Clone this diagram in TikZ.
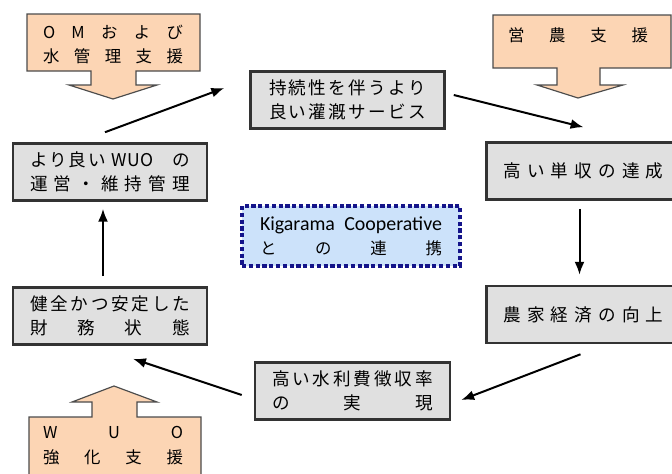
\documentclass[tikz,border=0pt]{standalone}
\usepackage{fontspec}
\setmainfont{Noto Sans CJK JP}
\newfontfamily\latfont{Carlito}
\usetikzlibrary{arrows.meta}
\newlength\px
\setlength\px{0.03cm}
% spread the items of a line over a fixed width
\def\spreadtok#1#2\endspread{#1\if\relax\detokenize{#2}\relax\else\hfill\spreadtok#2\endspread\fi}
\newcommand\sline[2]{\makebox[#1\px][s]{\spreadtok#2\endspread}}
\definecolor{peach}{HTML}{FCD5B4}
\definecolor{boxgray}{HTML}{E0E0E0}
\definecolor{kigblue}{HTML}{CCE2FA}
\definecolor{kigline}{HTML}{14148A}
\tikzset{
  stagebox/.style={draw=black!80,line width=2.2pt,fill=boxgray,minimum width=194\px,
    minimum height=57\px,inner sep=0pt,align=center,font=\fontsize{15}{20.5}\selectfont},
  helpshape/.style={draw=black!70,line width=1pt,fill=peach},
  helptext/.style={align=center,inner sep=0pt,font=\fontsize{14}{21}\selectfont},
  flow/.style={-{Latex[length=11pt,width=8.5pt]},line width=1.7pt},
}
\begin{document}
\begin{tikzpicture}[x=0.03cm,y=-0.03cm]
            \useasboundingbox(0,0)rectangle(672,473);
            % support callouts
            \draw[helpshape](27,14)--(200,14)--(200,71)--(136,71)--(136,85)--(157,85)--(113,99)
              --(69,85)--(91,85)--(91,71)--(27,71)--cycle;
            \node[helptext](omhelp)at(113,44.5){\sline{140}{OMおよび}\\\sline{140}{水管理支援}};
            \draw[helpshape](493,15)--(671,15)--(671,68)--(600,68)--(600,85)--(623,85)--(578,98)
              --(537,85)--(557,85)--(557,68)--(493,68)--cycle;
            \node[helptext](farmhelp)at(578,35){\sline{140}{営農支援}};
            \draw[helpshape](114,386)--(157,402)--(137,402)--(137,417)--(201,417)--(201,480)
              --(29,480)--(29,417)--(92,417)--(92,402)--(72,402)--cycle;
            \node[helptext](wuohelp)at(113,445.5){\sline{140}{WUO}\\\sline{140}{強化支援}};
            % cycle
            \node[stagebox](sust)at(347.5,100){\sline{157}{持続性を伴うより}\\\sline{157}{良い灌漑サービス}};
            \node[stagebox](yield)at(583.5,171){\sline{160}{高い単収の達成}};
            \node[stagebox](econ)at(583.5,314.5){\sline{160}{農家経済の向上}};
            \node[stagebox,minimum width=195\px](fee)at(352.5,391){\sline{161}{高い水利費徴収率}\\\sline{161}{の実現}};
            \node[stagebox](fin)at(110,316){\sline{160}{健全かつ安定した}\\\sline{160}{財務状態}};
            \node[stagebox](wuo)at(110,172){\makebox[160\px][s]{\sline{76}{より良い}\hspace{6\px}WUO\hfill の}\\\sline{160}{運営・維持管理}};
            \node[draw=kigline,fill=kigblue,line width=2.8pt,dash pattern=on 3.6pt off 2.2pt,
              minimum width=218\px,minimum height=60\px,inner sep=0pt,align=center,
              font=\fontsize{14}{20.5}\selectfont](kig)at(351,236)
              {\makebox[182\px][s]{\latfont\fontsize{17}{17}\selectfont Kigarama\hfill Cooperative}\\\sline{182}{との連携}};
            \path(wuo.north)--+(-5,-10)coordinate(p1);
            \path(sust.west)--+(-25,-12)coordinate(p2);
            \path(sust.east)--+(8,-5)coordinate(p3);
            \path(yield.north)--+(0,-14)coordinate(p4);
            \path(yield.south)--+(-4,8)coordinate(p5);
            \path(econ.north)--+(-4,-10)coordinate(p6);
            \path(econ.south)--+(-3,10)coordinate(p7);
            \path(fee.east)--+(10,9)coordinate(p8);
            \path(fee.west)--+(-12,4)coordinate(p9);
            \path(fin.south)--+(23,13)coordinate(p10);
            \path(fin.north)--+(-7,-10)coordinate(p11);
            \path(wuo.south)--+(-7,7)coordinate(p12);
            \draw[flow](p1)--(p2);
            \draw[flow](p3)--(p4);
            \draw[flow](p5)--(p6);
            \draw[flow](p7)--(p8);
            \draw[flow](p9)--(p10);
            \draw[flow](p11)--(p12);
        \end{tikzpicture}
\end{document}
